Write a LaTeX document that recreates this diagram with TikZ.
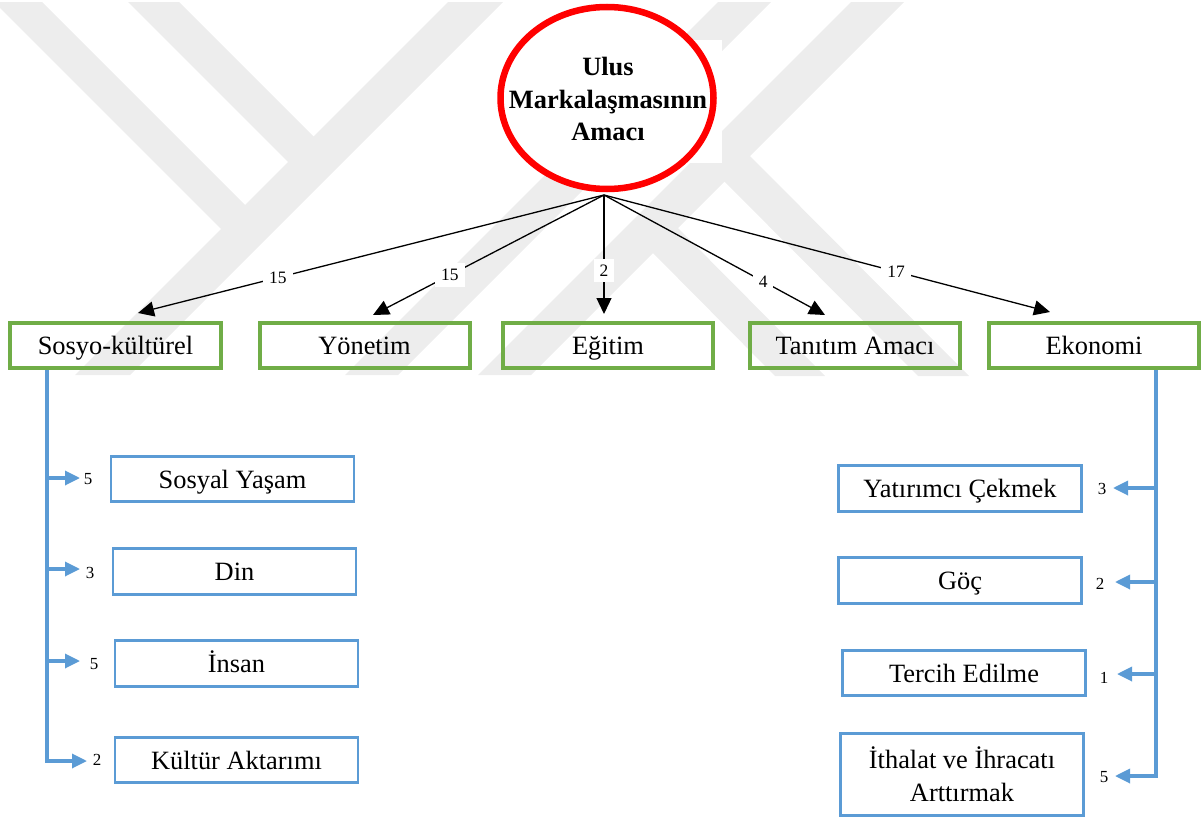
\documentclass[tikz,border=0pt]{standalone}
\usepackage{fontspec}
\setmainfont{Liberation Serif}
\usetikzlibrary{arrows.meta,shapes.geometric,calc}
\definecolor{wm}{gray}{0.93}
\definecolor{ggreen}{HTML}{70AD47}
\definecolor{bblue}{HTML}{5B9BD5}
\begin{document}
\begin{tikzpicture}[x=1bp,y=-1bp,
  greenbox/.style={draw=ggreen, line width=4bp, minimum width=210bp, minimum height=45bp, inner sep=0pt, text height=24bp, text depth=6bp, font=\fontsize{26.5}{31}\selectfont},
  bluebox/.style={draw=bblue, line width=2.7bp, minimum width=243bp, minimum height=45.5bp, inner sep=0pt, text height=24bp, text depth=6bp, font=\fontsize{26.5}{31}\selectfont},
  lab/.style={fill=white, font=\fontsize{17.5}{20}\selectfont, inner sep=6bp},
  num/.style={font=\fontsize{17}{20}\selectfont, inner sep=0pt},
  blk/.style={-{Triangle[length=16bp,width=15bp]}, line width=1.3bp},
  blu/.style={draw=bblue, line width=3.3bp},
  bluarr/.style={blu, -{Triangle[length=15bp,width=14bp]}}
]
\useasboundingbox (0,0) rectangle (1203,818);

% watermark
\begin{scope}
  \clip (0,3) rectangle (1203,376);
  \fill[wm] (-8,0) -- (40,0) -- (250,210) -- (226,234) -- cycle;
  \fill[wm] (126,0) -- (177,0) -- (318.5,141.5) -- (293,167) -- cycle;
  \fill[wm] (450,0) -- (505,0) -- (130,375) -- (75,375) -- cycle;
  \fill[wm] (720,0) -- (773,0) -- (398,375) -- (345,375) -- cycle;
  \fill[wm] (853,0) -- (906,0) -- (531,375) -- (478,375) -- cycle;
  \fill[wm] (716.5,173.5) -- (742,148) -- (969,376) -- (918,376) -- cycle;
  \fill[wm] (645,245) -- (670,220) -- (825,376) -- (775,376) -- cycle;
\end{scope}

% top ellipse
\fill[white] (497,40) rectangle (722,163);
\node[ellipse, draw=red, fill=white, line width=6.5bp, minimum width=213bp, minimum height=182bp, inner sep=0pt] (top) at (607,98) {};
\node[align=center, font=\bfseries\fontsize{26.5}{32.5}\selectfont, inner sep=0pt] (toptext) at (608,99) {Ulus\\Markalaşmasının\\Amacı};
\coordinate (src) at (604,195);

% green boxes
\node[greenbox] (sosyo) at (115.5,345.5) {Sosyo-kültürel};
\node[greenbox] (yonetim) at (364.5,345.5) {Yönetim};
\node[greenbox] (egitim) at (608,345.5) {Eğitim};
\node[greenbox] (tanitim) at (855,345.5) {Tanıtım Amacı};
\node[greenbox] (ekonomi) at (1094,345.5) {Ekonomi};

% black arrow tips
\coordinate (t1) at (138,313);
\coordinate (t2) at (373,315);
\coordinate (t3) at (604,314);
\coordinate (t4) at (825,315);
\coordinate (t5) at (1050,312);

\draw[blk] (src) -- node[lab,pos=0.70] (l1) {15} (t1);
\draw[blk] (src) -- node[lab,pos=0.667] (l2) {15} (t2);
\draw[blk] (src) -- node[lab,pos=0.636] (l3) {2} (t3);
\draw[blk] (src) -- node[lab,pos=0.72] (l4) {4} (t4);
\draw[blk] (src) -- node[lab,pos=0.655] (l5) {17} (t5);

% left blue boxes
\node[bluebox] (sosyal) at (232.5,479) {Sosyal Yaşam};
\node[bluebox] (din) at (234.5,571.5) {Din};
\node[bluebox] (insan) at (236.5,663.5) {İnsan};
\node[bluebox] (kultur) at (236.5,760) {Kültür Aktarımı};

\coordinate (lx) at (47,0);
\coordinate (k1) at (80,478);
\coordinate (k2) at (80,569);
\coordinate (k3) at (80,661);
\coordinate (k4) at (87,761);
\draw[bluarr] (sosyo.south -| lx) |- (k4);
\draw[bluarr] (k1 -| lx) -- (k1);
\draw[bluarr] (k2 -| lx) -- (k2);
\draw[bluarr] (k3 -| lx) -- (k3);
\node[num] (n1) at (88,479) {5};
\node[num] (n2) at (90,573) {3};
\node[num] (n3) at (94,664) {5};
\node[num] (n4) at (97,760) {2};

% right blue boxes
\node[bluebox] (yatirim) at (960,488.5) {Yatırımcı Çekmek};
\node[bluebox] (goc) at (960,580.5) {Göç};
\node[bluebox] (tercih) at (964,673) {Tercih Edilme};
\node[draw=bblue, line width=2.7bp, minimum width=243bp, minimum height=82.5bp, inner sep=0pt, align=center, font=\fontsize{26.5}{33.5}\selectfont] (ithalat) at (962,774.5) {İthalat ve İhracatı\\Arttırmak};

\coordinate (rx) at (1156,0);
\coordinate (e1) at (1113,488);
\coordinate (e2) at (1115,582);
\coordinate (e3) at (1117,674);
\coordinate (e4) at (1115,776);
\draw[bluarr] (ekonomi.south -| rx) |- (e4);
\draw[bluarr] (e1 -| rx) -- (e1);
\draw[bluarr] (e2 -| rx) -- (e2);
\draw[bluarr] (e3 -| rx) -- (e3);
\node[num] (m1) at (1102,489) {3};
\node[num] (m2) at (1100,584) {2};
\node[num] (m3) at (1104,678) {1};
\node[num] (m4) at (1104,777) {5};
\end{tikzpicture}
\end{document}
